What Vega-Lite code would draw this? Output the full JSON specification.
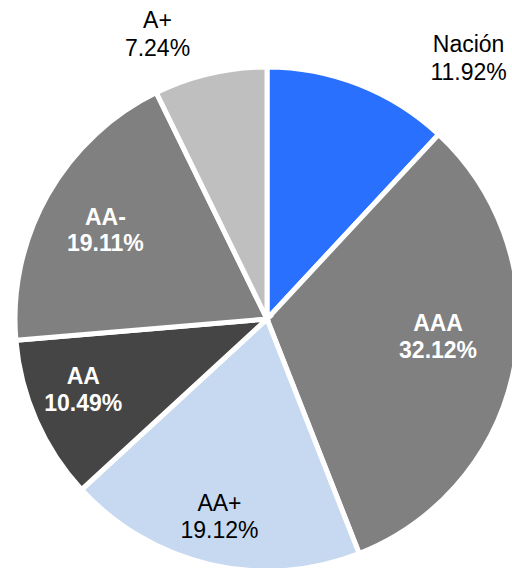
{
  "$schema": "https://vega.github.io/schema/vega-lite/v6.json",
  "autosize": {"type": "none"},
  "padding": {"left": 22, "top": 70, "right": 0, "bottom": 0},
  "width": 490,
  "height": 498,
  "background": "white",
  "config": {"view": {"stroke": null}, "text": {"font": "Liberation Sans"}},
  "data": {
    "values": [
      {"rating": "Nación", "share": 11.92, "idx": 1, "label": "Nación\n11.92%"},
      {"rating": "AAA", "share": 32.12, "idx": 2, "label": "AAA\n32.12%"},
      {"rating": "AA+", "share": 19.12, "idx": 3, "label": "AA+\n19.12%"},
      {"rating": "AA", "share": 10.49, "idx": 4, "label": "AA\n10.49%"},
      {"rating": "AA-", "share": 19.11, "idx": 5, "label": "AA-\n19.11%"},
      {"rating": "A+", "share": 7.24, "idx": 6, "label": "A+\n7.24%"}
    ]
  },
  "encoding": {
    "theta": {"field": "share", "type": "quantitative", "stack": true},
    "order": {"field": "idx", "type": "quantitative"},
    "detail": {"field": "rating", "type": "nominal"}
  },
  "layer": [
    {
      "mark": {"type": "arc", "outerRadius": 252, "stroke": "white", "strokeWidth": 5},
      "encoding": {
        "color": {
          "field": "rating",
          "type": "nominal",
          "scale": {
            "domain": ["Nación", "AAA", "AA+", "AA", "AA-", "A+"],
            "range": ["#2970FF", "#808080", "#C6D9F1", "#454545", "#808080", "#BFBFBF"]
          },
          "legend": null
        }
      }
    },
    {
      "mark": {"type": "text", "radius": 329, "thetaOffset": 0.285, "dy": -14, "fontSize": 23, "lineHeight": 28, "align": "center", "baseline": "middle", "lineBreak": "\n", "color": "black"},
      "encoding": {"text": {"condition": {"test": "datum.rating === 'Nación'", "field": "label"}, "value": ""}}
    },
    {
      "mark": {"type": "text", "radius": 304, "thetaOffset": -0.141, "dy": -14, "fontSize": 23, "lineHeight": 28, "align": "center", "baseline": "middle", "lineBreak": "\n", "color": "black"},
      "encoding": {"text": {"condition": {"test": "datum.rating === 'A+'", "field": "label"}, "value": ""}}
    },
    {
      "mark": {"type": "text", "radius": 172, "thetaOffset": -0.082, "dy": -13, "fontSize": 23, "fontWeight": "bold", "lineHeight": 27, "align": "center", "baseline": "middle", "lineBreak": "\n", "color": "white"},
      "encoding": {"text": {"condition": {"test": "datum.rating === 'AAA'", "field": "label"}, "value": ""}}
    },
    {
      "mark": {"type": "text", "radius": 204, "thetaOffset": 0.009, "dy": -13, "fontSize": 23, "lineHeight": 27, "align": "center", "baseline": "middle", "lineBreak": "\n", "color": "black"},
      "encoding": {"text": {"condition": {"test": "datum.rating === 'AA+'", "field": "label"}, "value": ""}}
    },
    {
      "mark": {"type": "text", "radius": 197, "thetaOffset": 0.045, "dy": -13, "fontSize": 23, "fontWeight": "bold", "lineHeight": 27, "align": "center", "baseline": "middle", "lineBreak": "\n", "color": "white"},
      "encoding": {"text": {"condition": {"test": "datum.rating === 'AA'", "field": "label"}, "value": ""}}
    },
    {
      "mark": {"type": "text", "radius": 184, "thetaOffset": -0.017, "dy": -13, "fontSize": 23, "fontWeight": "bold", "lineHeight": 26, "align": "center", "baseline": "middle", "lineBreak": "\n", "color": "white"},
      "encoding": {"text": {"condition": {"test": "datum.rating === 'AA-'", "field": "label"}, "value": ""}}
    }
  ]
}
